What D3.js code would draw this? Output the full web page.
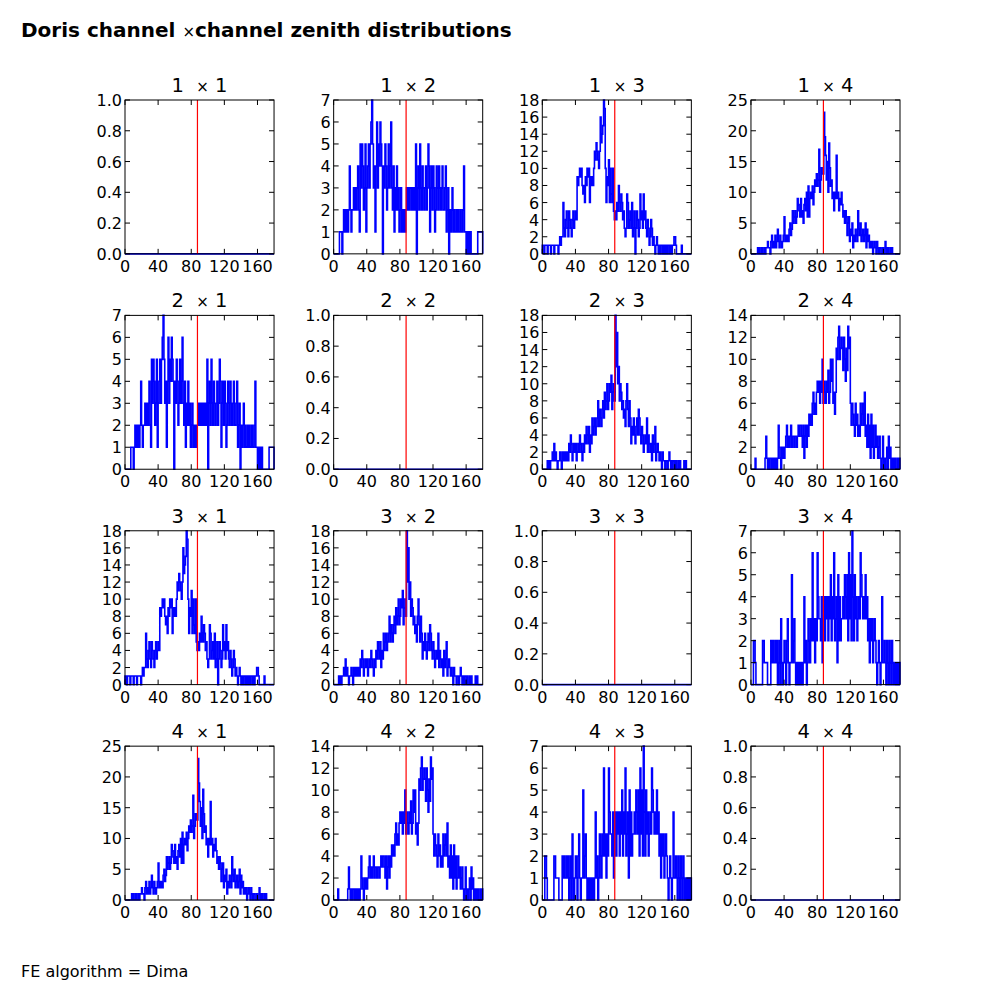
<!DOCTYPE html>
<html lang="en">
<head>
  <meta charset="UTF-8">
  <title>Doris channel x channel zenith distributions</title>
  <script src="https://cdnjs.cloudflare.com/ajax/libs/d3/7.8.5/d3.min.js"></script>
  <style>
    body { margin: 0; background: #fff; }
    text { font-family: "DejaVu Sans", sans-serif; fill: #000; }
    .tick-label { font-size: 16px; }
    .panel-title { font-size: 19.5px; white-space: pre; }
  </style>
</head>
<body>
  <div class="chart"></div>
  <script>
    // channels and x ticks
    const channels = [1, 2, 3, 4];
    const xTicks = [0, 40, 80, 120, 160];
    const cutDeg = 87.5;   // red reference line

    // 1-degree zenith bins, 0..180, counts
    const h12 = [
      0,0,0,0,0,0,0,1,1,1, 0,1,2,1,2,1,2,1,2,4, 2,1,2,2,3,2,3,2,3,4,
      2,1,5,3,5,4,2,3,5,1, 3,4,5,3,5,6,7,5,3,4, 1,4,6,3,5,4,6,5,4,0,
      4,3,5,4,2,3,5,3,4,6, 3,2,4,1,3,2,4,2,3,1, 2,3,1,2,1,2,1,2,3,2,
      3,2,3,3,2,3,2,3,2,5, 0,3,4,2,5,3,2,4,3,2, 3,4,2,3,5,4,1,3,4,2,
      4,3,1,2,4,3,2,4,3,2, 3,4,2,2,3,4,1,2,3,0, 2,1,2,3,1,2,1,1,2,1,
      2,1,1,2,1,1,2,4,1,1, 0,1,0,1,0,1,0,0,0,0, 0,0,0,0,1,1,1,1,1,1
    ];
    const h13 = [
      1,1,0,1,1,1,0,1,1,1, 0,1,1,1,0,1,1,1,1,0, 1,2,1,2,2,6,3,2,4,5,
      3,2,5,4,3,2,4,5,3,4, 5,4,9,8,9,10,9,10,8,7, 8,6,9,8,10,9,10,6,9,8,
      9,8,10,12,11,13,12,11,10,12, 16,13,14,15,18,17,10,6,9,8, 11,6,10,7,6,10,5,4,5,4,
      6,5,8,6,5,7,6,4,5,3, 2,3,7,6,3,4,5,3,6,2, 3,5,0,3,5,4,2,3,7,4,
      5,3,7,4,5,3,2,4,3,1, 2,4,3,1,2,1,0,1,2,1, 0,1,0,1,1,0,1,0,1,0,
      1,0,1,1,0,1,0,1,1,2, 2,1,0,0,0,0,0,0,1,0, 0,0,0,0,0,0,0,0,0,0
    ];
    const h14 = [
      0,0,0,0,0,0,0,0,1,0, 1,0,0,1,0,0,1,0,1,1, 2,1,1,0,2,3,1,2,1,3,
      1,2,4,2,1,3,2,1,2,3, 6,2,3,2,3,2,4,5,3,4, 7,5,6,7,5,6,9,8,7,6,
      9,6,7,5,8,9,7,10,6,11, 6,9,10,9,11,8,10,12,11,13, 11,12,17,10,12,14,13,13,23,19,
      16,12,15,10,18,14,11,12,9,10, 7,10,9,16,9,10,7,9,8,10, 8,6,7,5,7,6,3,5,6,2,
      4,3,5,1,3,2,4,3,2,7, 4,3,5,2,3,4,2,3,5,1, 4,2,3,1,2,1,2,0,1,2,
      1,0,2,1,0,1,1,0,0,1, 0,0,2,1,0,1,0,0,1,0, 1,0,0,0,0,0,0,0,0,0
    ];
    const h23 = [
      0,0,0,0,0,0,1,0,1,0, 1,1,2,1,3,1,2,1,0,1, 1,2,1,0,2,1,2,1,2,1,
      2,1,3,2,4,3,1,2,3,2, 3,1,2,3,2,4,3,2,1,3, 2,4,3,5,4,3,5,2,4,3,
      6,4,5,6,4,5,6,8,5,7, 6,5,7,8,6,9,7,8,10,7, 8,10,9,11,7,9,10,8,18,12,
      16,10,12,8,10,9,7,8,6,7, 5,8,10,7,5,8,6,3,5,4, 6,4,3,5,6,4,7,6,4,3,
      5,4,2,3,4,3,6,2,4,3, 2,3,1,4,2,3,5,1,2,3, 2,1,2,1,0,2,1,1,0,1,
      1,0,1,2,1,0,1,0,1,1, 0,1,0,0,1,0,1,0,0,0, 0,1,0,1,0,0,0,0,0,0
    ];
    const h24 = [
      0,0,0,0,0,1,0,0,0,0, 0,0,0,0,0,0,0,1,3,1, 0,1,0,1,1,0,1,0,1,0,
      1,0,1,4,2,1,0,2,1,2, 1,2,3,4,2,3,2,3,4,2, 3,3,2,3,3,2,3,4,3,4,
      4,3,2,4,1,3,4,2,4,3, 5,4,5,4,6,7,5,6,5,7, 8,7,8,6,8,7,10,6,8,7,
      6,8,7,9,6,7,10,8,10,6, 7,5,7,11,10,12,13,10,11,12, 11,9,12,10,8,11,9,13,11,12,
      6,4,6,5,4,3,6,4,5,3, 4,3,6,4,5,6,4,7,3,4, 2,5,2,4,1,5,2,4,1,2,
      4,2,3,1,2,3,1,0,1,3, 0,1,0,1,2,0,3,1,2,0, 1,0,1,0,1,0,0,1,0,1
    ];
    const h34 = [
      0,0,0,2,2,1,0,0,0,0, 0,0,0,0,2,2,1,1,1,1, 0,0,0,0,2,1,2,1,1,2,
      1,2,0,1,2,0,3,1,0,1, 2,1,0,2,3,1,0,1,1,5, 1,2,3,1,0,1,0,1,0,1,
      0,1,0,1,4,1,2,0,1,3, 2,1,3,2,6,2,3,1,3,2, 6,4,3,3,2,4,1,3,4,2,
      4,3,4,2,4,3,5,2,4,3, 6,2,3,4,1,5,2,4,2,3, 3,4,3,5,4,3,5,2,6,3,
      5,2,7,4,2,5,3,4,2,3, 4,3,6,5,4,3,4,3,5,3, 4,2,3,1,3,2,3,1,2,3,
      2,1,0,1,2,1,0,1,4,1, 1,2,1,0,2,1,0,2,1,0, 2,1,0,1,0,1,0,1,0,1
    ];
    const emptyHist = new Array(180).fill(0);

    const pairHist = { "1-2": h12, "1-3": h13, "1-4": h14, "2-3": h23, "2-4": h24, "3-4": h34 };

    const W = 1000, H = 1000;
    const padLeft = 125, padTop = 100;
    const pw = 775 / 5.2, ph = 800 / 5.2;   // 4 panels + 3 gaps of 0.4
    const gx = pw * 0.4, gy = ph * 0.4;
    const tickLen = 5;

    const svg = d3.select('.chart')
      .append('svg')
      .attr('width', W)
      .attr('height', H);

    svg.append('rect').attr('width', W).attr('height', H).attr('fill', '#fff');

    // figure title
    const title = svg.append('text')
      .attr('x', 21).attr('y', 37)
      .style('font-size', '20px')
      .style('font-weight', 'bold');
    title.append('tspan').text('Doris channel ');
    title.append('tspan').style('font-weight', 'normal').style('font-size', '15px').text('\u00d7');
    title.append('tspan').text('channel zenith distributions');

    svg.append('text')
      .attr('x', 21).attr('y', 977)
      .style('font-size', '16px')
      .text('FE algorithm = Dima');

    channels.forEach((ci, r) => {
      channels.forEach((cj, c) => {
        const key = Math.min(ci, cj) + '-' + Math.max(ci, cj);
        const counts = ci === cj ? emptyHist : pairHist[key];
        const x0 = padLeft + c * (pw + gx);
        const y0 = padTop + r * (ph + gy);

        const x = d3.scaleLinear().domain([0, 180]).range([0, pw]);
        const ymax = d3.max(counts);
        const y = d3.scaleLinear().domain([0, ymax > 0 ? ymax : 1]).nice(6).range([ph, 0]);
        const yTicks = y.ticks(6);

        const g = svg.append('g').attr('transform', `translate(${x0},${y0})`);

        // step outline, matplotlib histtype='step'
        const pts = [[0, 0]];
        counts.forEach((v, i) => { pts.push([i, v]); pts.push([i + 1, v]); });
        pts.push([180, 0]);
        const line = d3.line().x(d => x(d[0])).y(d => y(d[1]));

        g.append('rect')
          .attr('width', pw).attr('height', ph)
          .attr('fill', '#fff');

        g.append('path')
          .datum(pts)
          .attr('d', line)
          .attr('fill', 'none')
          .attr('stroke', '#0000ff')
          .attr('stroke-width', 1.6)
          .attr('stroke-linejoin', 'miter');

        g.append('line')
          .attr('x1', x(cutDeg)).attr('x2', x(cutDeg))
          .attr('y1', 0).attr('y2', ph)
          .attr('stroke', '#ff0000')
          .attr('stroke-width', 1.2);

        // ticks inside on all four sides
        xTicks.forEach(t => {
          g.append('line').attr('x1', x(t)).attr('x2', x(t)).attr('y1', ph).attr('y2', ph - tickLen).attr('stroke', '#000');
          g.append('line').attr('x1', x(t)).attr('x2', x(t)).attr('y1', 0).attr('y2', tickLen).attr('stroke', '#000');
          g.append('text').attr('class', 'tick-label')
            .attr('x', x(t)).attr('y', ph + 18)
            .attr('text-anchor', 'middle')
            .text(t);
        });
        const yFmt = ymax > 0 ? d3.format('d') : d3.format('.1f');
        yTicks.forEach(t => {
          g.append('line').attr('x1', 0).attr('x2', tickLen).attr('y1', y(t)).attr('y2', y(t)).attr('stroke', '#000');
          g.append('line').attr('x1', pw).attr('x2', pw - tickLen).attr('y1', y(t)).attr('y2', y(t)).attr('stroke', '#000');
          g.append('text').attr('class', 'tick-label')
            .attr('x', -3).attr('y', y(t) + 6)
            .attr('text-anchor', 'end')
            .text(yFmt(t));
        });

        g.append('rect')
          .attr('width', pw).attr('height', ph)
          .attr('fill', 'none')
          .attr('stroke', '#000')
          .attr('stroke-width', 1);

        const tt = g.append('text').attr('class', 'panel-title')
          .attr('x', pw / 2).attr('y', -8)
          .attr('text-anchor', 'middle');
        tt.append('tspan').text(ci + '  ');
        tt.append('tspan').style('font-size', '15px').text('\u00d7');
        tt.append('tspan').text(' ' + cj);
      });
    });
  </script>
</body>
</html>
